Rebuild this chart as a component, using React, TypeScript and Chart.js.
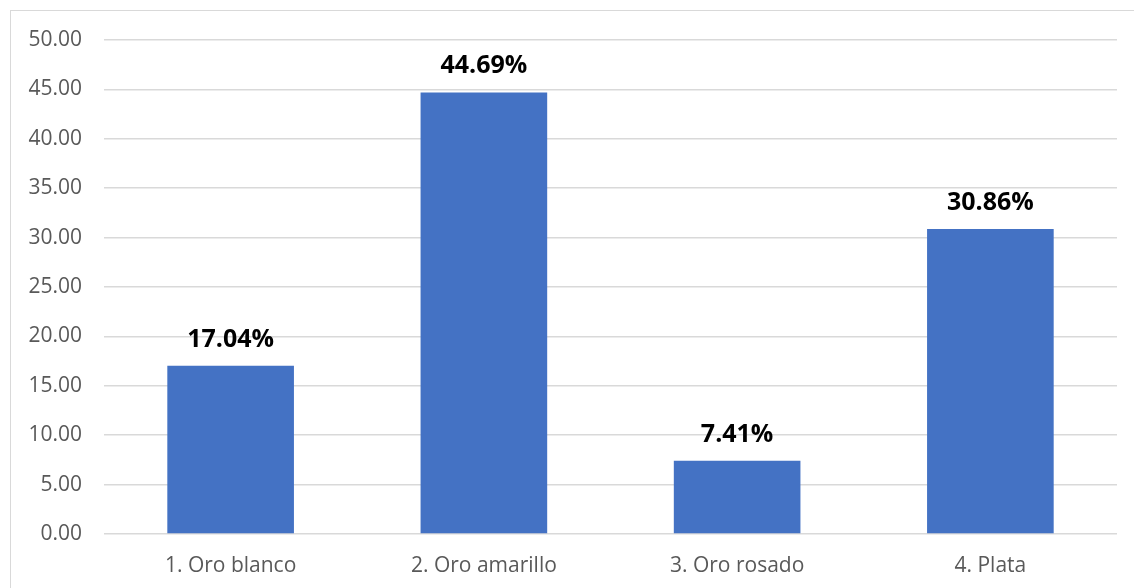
import React, { useEffect, useRef } from "react";
import { Chart, registerables } from "chart.js";

Chart.register(...registerables);

const categories = ["1. Oro blanco", "2. Oro amarillo", "3. Oro rosado", "4. Plata"];
const values = [17.04, 44.69, 7.41, 30.86];
const yTicks = [0, 5, 10, 15, 20, 25, 30, 35, 40, 45, 50];

const FONT = "'Open Sans', 'Liberation Sans', sans-serif";

const valueLabels = {
  id: "valueLabels",
  afterDatasetsDraw(chart: any) {
    const ctx = chart.ctx;
    const meta = chart.getDatasetMeta(0);
    ctx.save();
    ctx.font = `bold 25px ${FONT}`;
    ctx.fillStyle = "#000000";
    ctx.textAlign = "center";
    ctx.textBaseline = "alphabetic";
    meta.data.forEach((bar: any, i: number) => {
      ctx.fillText(values[i].toFixed(2) + "%", bar.x, bar.y - 19);
    });
    ctx.restore();
  },
};

export default function App() {
  const ref = useRef<HTMLCanvasElement>(null);
  useEffect(() => {
    if (!ref.current) return;
    const chart = new Chart(ref.current, {
      type: "bar",
      data: {
        labels: categories,
        datasets: [
          {
            data: values,
            backgroundColor: "#4472C4",
            categoryPercentage: 1,
            barPercentage: 0.5,
          },
        ],
      },
      options: {
        responsive: false,
        animation: false,
        layout: { padding: { top: 40, right: 17, left: 0, bottom: 0 } },
        plugins: { legend: { display: false }, tooltip: { enabled: false } },
        scales: {
          x: {
            grid: { display: false, drawTicks: false },
            border: { display: false },
            ticks: { color: "#595959", font: { family: FONT, size: 21 }, padding: 19 },
            afterFit: (s: any) => {
              s.height = 54;
            },
          },
          y: {
            min: 0,
            max: 50,
            afterBuildTicks: (s: any) => {
              s.ticks = yTicks.map((v) => ({ value: v }));
            },
            grid: { color: "#d9d9d9", lineWidth: 1.5, drawTicks: false },
            border: { display: false },
            ticks: {
              color: "#595959",
              font: { family: FONT, size: 21 },
              padding: 22,
              callback: (v: any) => Number(v).toFixed(2),
            },
            afterFit: (s: any) => {
              s.width = 104;
            },
          },
        },
      },
      plugins: [valueLabels],
    });
    return () => chart.destroy();
  }, []);
  return (
    <div style={{ position: "fixed", left: 0, top: 0, width: 1134, height: 588, background: "#fff", overflow: "hidden" }}>
      <div
        style={{
          position: "absolute",
          left: 10,
          top: 10,
          width: 1200,
          height: 700,
          borderLeft: "1.5px solid #d9d9d9",
          borderTop: "1.5px solid #d9d9d9",
        }}
      />
      <canvas ref={ref} width={1134} height={588} style={{ position: "absolute", left: 0, top: 0, width: 1134, height: 588 }} />
    </div>
  );
}
